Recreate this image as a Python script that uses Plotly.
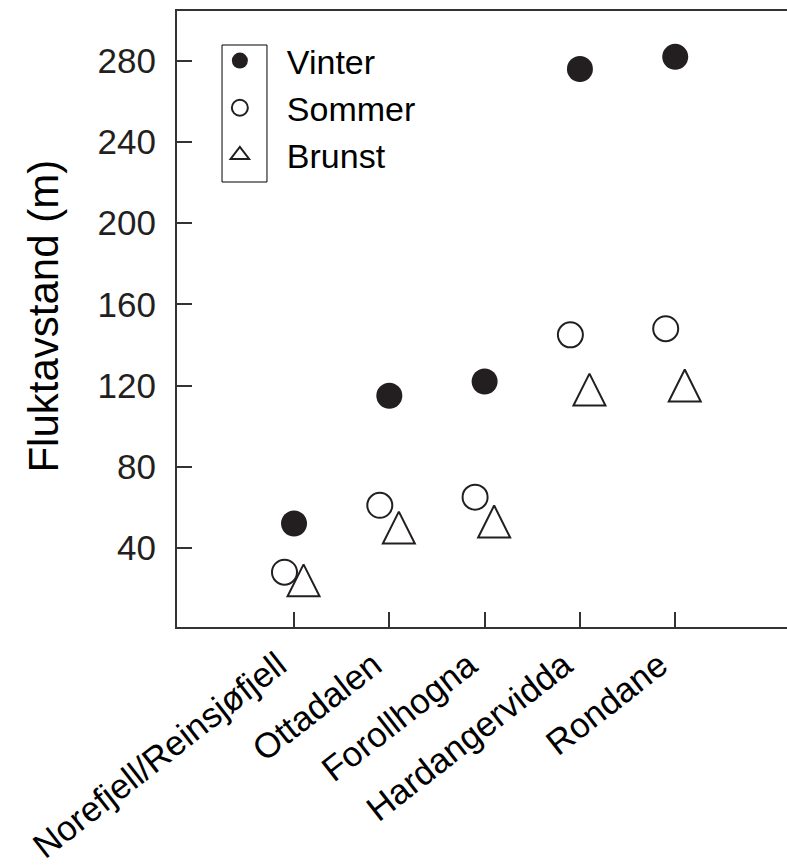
import plotly.graph_objects as go

categories = ["Norefjell/Reinsjøfjell", "Ottadalen", "Forollhogna", "Hardangervidda", "Rondane"]
vinter = [52, 115, 122, 276, 282]
sommer = [28, 61, 65, 145, 148]
brunst = [24, 50, 53, 118, 120]
y_ticks = [40, 80, 120, 160, 200, 240, 280]

INK = "#231f20"
AX = "#333333"
FONT = "Liberation Sans, Arial, sans-serif"

idx = list(range(len(categories)))
off = 0.1

fig = go.Figure()
fig.add_trace(go.Scatter(
    x=idx, y=vinter, mode="markers", name="Vinter", legendgroup="v",
    marker=dict(symbol="circle", size=26, color=INK, line=dict(width=0)),
))
fig.add_trace(go.Scatter(
    x=[i - off for i in idx], y=sommer, mode="markers", name="Sommer", legendgroup="s",
    marker=dict(symbol="circle-open", size=25, color=INK, line=dict(width=2, color=INK)),
))
fig.add_trace(go.Scatter(
    x=[i + off for i in idx], y=brunst, mode="markers", name="Brunst", legendgroup="b",
    showlegend=False,
    marker=dict(symbol="arrow-down-open", size=32, angle=180, standoff=16,
                color=INK, line=dict(width=2, color=INK)),
))
# legend entry for Brunst (plain open triangle symbol)
fig.add_trace(go.Scatter(
    x=[None], y=[None], mode="markers", name="Brunst", legendgroup="b",
    marker=dict(symbol="triangle-up-open", size=16, color=INK, line=dict(width=2, color=INK)),
))

fig.update_layout(
    width=787, height=867,
    margin=dict(l=177, r=0, t=11, b=240, autoexpand=False),
    paper_bgcolor="white", plot_bgcolor="white",
    font=dict(family=FONT, color=INK),
    showlegend=True,
    legend=dict(x=0.026, y=0.966, xanchor="left", yanchor="top",
                font=dict(size=34, color="black"), itemwidth=84,
                bgcolor="rgba(0,0,0,0)", borderwidth=0, tracegroupgap=0),
    xaxis=dict(range=[-1.228, 5.173], tickmode="array", tickvals=idx, ticktext=categories,
               tickangle=-38, ticks="inside", ticklen=15, tickwidth=2, tickcolor=AX,
               showline=True, linecolor=AX, linewidth=2, mirror=True, automargin=False,
               ticklabelshift=-16, ticklabelstandoff=2,
               showgrid=False, zeroline=False, tickfont=dict(size=35, color="black")),
    yaxis=dict(range=[1.0, 304.6], tickmode="array", tickvals=y_ticks,
               ticks="inside", ticklen=15, tickwidth=2, tickcolor=AX,
               showline=True, linecolor=AX, linewidth=2, mirror=False, automargin=False,
               showgrid=False, zeroline=False, ticklabelstandoff=12,
               tickfont=dict(size=35, color=INK)),
    annotations=[dict(text="Fluktavstand (m)", xref="paper", yref="paper",
                      x=-0.218, y=0.504, xanchor="center", yanchor="middle",
                      textangle=-90, showarrow=False,
                      font=dict(size=42, color="black", family=FONT))],
    shapes=[dict(type="rect", xref="paper", yref="paper",
                 x0=0.0738, x1=0.1475, y0=0.7224, y1=0.9448,
                 line=dict(color="black", width=1), fillcolor="rgba(0,0,0,0)")],
)

fig.write_html("out.html", config={"displayModeBar": False},
               post_script="document.body.style.margin='0';document.body.style.overflow='hidden';")
